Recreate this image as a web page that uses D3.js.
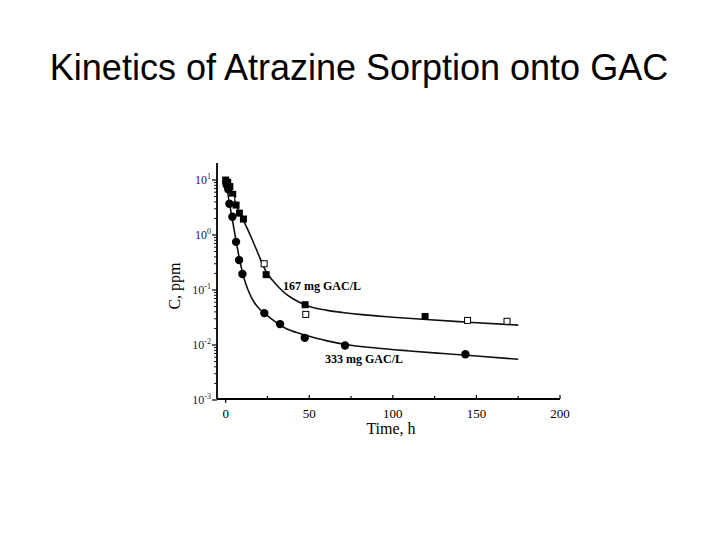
<!DOCTYPE html>
<html>
<head>
<meta charset="utf-8">
<script src="https://cdn.jsdelivr.net/npm/d3@7"></script>
<style>
  body { margin: 0; background: #fff; }
  svg { display: block; }
</style>
</head>
<body>
<svg id="chart" width="720" height="540"></svg>
<script>
// Measured points, 167 mg GAC/L (filled and open squares)
const filled167T = [0, 1.2, 2.5, 4.2, 6.2, 8.2, 10.6, 24.2, 47.5, 119.3];
const filled167C = [10, 9.1, 7.6, 5.5, 3.5, 2.5, 1.95, 0.19, 0.054, 0.033];
const open167T = [1.5, 3.6, 23, 47.9, 144.7, 168.3];
const open167C = [7.2, 4.5, 0.30, 0.036, 0.028, 0.027];

// Measured points, 333 mg GAC/L (circles)
const circ333T = [0.3, 0.6, 1.6, 2.2, 4, 6.2, 8, 10, 23.1, 32.5, 47.3, 71.4, 143.4];
const circ333C = [9.0, 8.1, 6.8, 3.7, 2.15, 0.75, 0.35, 0.195, 0.038, 0.024, 0.0135, 0.0098, 0.0068];

// Model curves
const fit167T = [0, 2, 4, 6, 8, 10, 12, 15, 18, 21, 24, 28, 32, 36, 40, 45, 50, 60, 70, 80, 100, 120, 145, 175];
const fit167C = [10, 7.5, 5.5, 3.8, 2.7, 2.0, 1.5, 0.95, 0.58, 0.35, 0.22, 0.15, 0.11, 0.085, 0.07, 0.058, 0.05, 0.043, 0.039, 0.036, 0.032, 0.029, 0.026, 0.023];
const fit333T = [0, 1, 2, 4, 6, 8, 10, 12, 14, 17, 20, 24, 30, 36, 42, 48, 60, 72, 90, 110, 130, 150, 175];
const fit333C = [9.5, 6.5, 4.2, 1.9, 0.85, 0.4, 0.21, 0.13, 0.09, 0.06, 0.046, 0.036, 0.026, 0.02, 0.017, 0.015, 0.012, 0.0102, 0.0088, 0.0078, 0.007, 0.0063, 0.0055];

const xTicks = [0, 50, 100, 150, 200];
const xMinorTicks = [25, 75, 125, 175];
const yExponents = [1, 0, -1, -2, -3];

const svg = d3.select('#chart');

// Title
svg.append('text')
    .attr('x', 359)
    .attr('y', 80)
    .attr('text-anchor', 'middle')
    .style('font-family', 'Liberation Sans, Arial, sans-serif')
    .style('font-size', '36px')
    .style('fill', '#000')
    .text('Kinetics of Atrazine Sorption onto GAC');

const serif = 'Liberation Serif, Times New Roman, serif';

const xScale = d3.scaleLinear().domain([0, 200]).range([225.7, 560]);
const yScale = d3.scaleLog().domain([1e-3, 10]).range([400, 180]);

const x0 = 217, yBottom = 399, yTop = 163;

const g = svg.append('g');

// Axes lines
g.append('line')
    .attr('x1', x0).attr('x2', x0)
    .attr('y1', yTop).attr('y2', yBottom)
    .attr('stroke', '#000').attr('stroke-width', 1.8);
g.append('line')
    .attr('x1', x0).attr('x2', xScale(200))
    .attr('y1', yBottom).attr('y2', yBottom)
    .attr('stroke', '#000').attr('stroke-width', 1.8);

// x ticks
g.selectAll('.xtick')
    .data(xTicks)
    .join('line')
    .attr('x1', d => xScale(d)).attr('x2', d => xScale(d))
    .attr('y1', yBottom)
    .attr('y2', d => d === 0 ? yBottom + 4 : yBottom - 4)
    .attr('stroke', '#000').attr('stroke-width', 1.2);
g.selectAll('.xminor')
    .data(xMinorTicks)
    .join('line')
    .attr('x1', d => xScale(d)).attr('x2', d => xScale(d))
    .attr('y1', yBottom).attr('y2', yBottom - 3)
    .attr('stroke', '#000').attr('stroke-width', 1.2);
g.selectAll('.xlabel')
    .data(xTicks)
    .join('text')
    .attr('x', d => xScale(d))
    .attr('y', 418)
    .attr('text-anchor', 'middle')
    .style('font-family', serif)
    .style('font-size', '13px')
    .text(d => d);

// y ticks (log)
const yMinor = [];
yExponents.slice(0, 4).forEach(e => {
    for (let k = 2; k <= 9; k++) yMinor.push(k * Math.pow(10, e - 1));
});
g.selectAll('.yminor')
    .data(yMinor)
    .join('line')
    .attr('x1', x0 - 3).attr('x2', x0)
    .attr('y1', d => yScale(d)).attr('y2', d => yScale(d))
    .attr('stroke', '#000').attr('stroke-width', 0.9);
g.selectAll('.ytick')
    .data(yExponents)
    .join('line')
    .attr('x1', x0 - 5).attr('x2', x0)
    .attr('y1', d => yScale(Math.pow(10, d))).attr('y2', d => yScale(Math.pow(10, d)))
    .attr('stroke', '#000').attr('stroke-width', 1.2);
const ylab = g.selectAll('.ylabel')
    .data(yExponents)
    .join('text')
    .attr('x', x0 - 6)
    .attr('y', d => yScale(Math.pow(10, d)) + 4)
    .attr('text-anchor', 'end')
    .style('font-family', serif)
    .style('font-size', '12px')
    .style('fill', '#222');
ylab.append('tspan').text('10');
ylab.append('tspan')
    .attr('dy', -5)
    .style('font-size', '8px')
    .text(d => d);

// Axis titles
svg.append('text')
    .attr('transform', 'translate(180,286) rotate(-90)')
    .attr('text-anchor', 'middle')
    .style('font-family', serif)
    .style('font-size', '16px')
    .text('C, ppm');
svg.append('text')
    .attr('x', 391)
    .attr('y', 434)
    .attr('text-anchor', 'middle')
    .style('font-family', serif)
    .style('font-size', '16px')
    .text('Time, h');

// Fit curves
const line = d3.line()
    .x(d => xScale(d[0]))
    .y(d => yScale(d[1]))
    .curve(d3.curveMonotoneX);
[[fit167T, fit167C], [fit333T, fit333C]].forEach(([t, c]) => {
    g.append('path')
        .datum(t.map((v, i) => [v, c[i]]))
        .attr('d', line)
        .attr('fill', 'none')
        .attr('stroke', '#111')
        .attr('stroke-width', 1.6);
});

// Markers
const sq = 7;
g.selectAll('.filled')
    .data(filled167T.map((v, i) => [v, filled167C[i]]))
    .join('rect')
    .attr('x', d => xScale(d[0]) - sq / 2)
    .attr('y', d => yScale(d[1]) - sq / 2)
    .attr('width', sq).attr('height', sq)
    .attr('fill', '#000');
g.selectAll('.open')
    .data(open167T.map((v, i) => [v, open167C[i]]))
    .join('rect')
    .attr('x', d => xScale(d[0]) - 3)
    .attr('y', d => yScale(d[1]) - 3)
    .attr('width', 6).attr('height', 6)
    .attr('fill', '#fff')
    .attr('stroke', '#000').attr('stroke-width', 1);
g.selectAll('.circ')
    .data(circ333T.map((v, i) => [v, circ333C[i]]))
    .join('circle')
    .attr('cx', d => xScale(d[0]))
    .attr('cy', d => yScale(d[1]))
    .attr('r', 4.2)
    .attr('fill', '#000');

// Series labels
g.append('text')
    .attr('x', 283).attr('y', 290)
    .style('font-family', serif)
    .style('font-size', '12px')
    .style('font-weight', 'bold')
    .text('167 mg GAC/L');
g.append('text')
    .attr('x', 325).attr('y', 363)
    .style('font-family', serif)
    .style('font-size', '12px')
    .style('font-weight', 'bold')
    .text('333 mg GAC/L');
</script>
</body>
</html>
